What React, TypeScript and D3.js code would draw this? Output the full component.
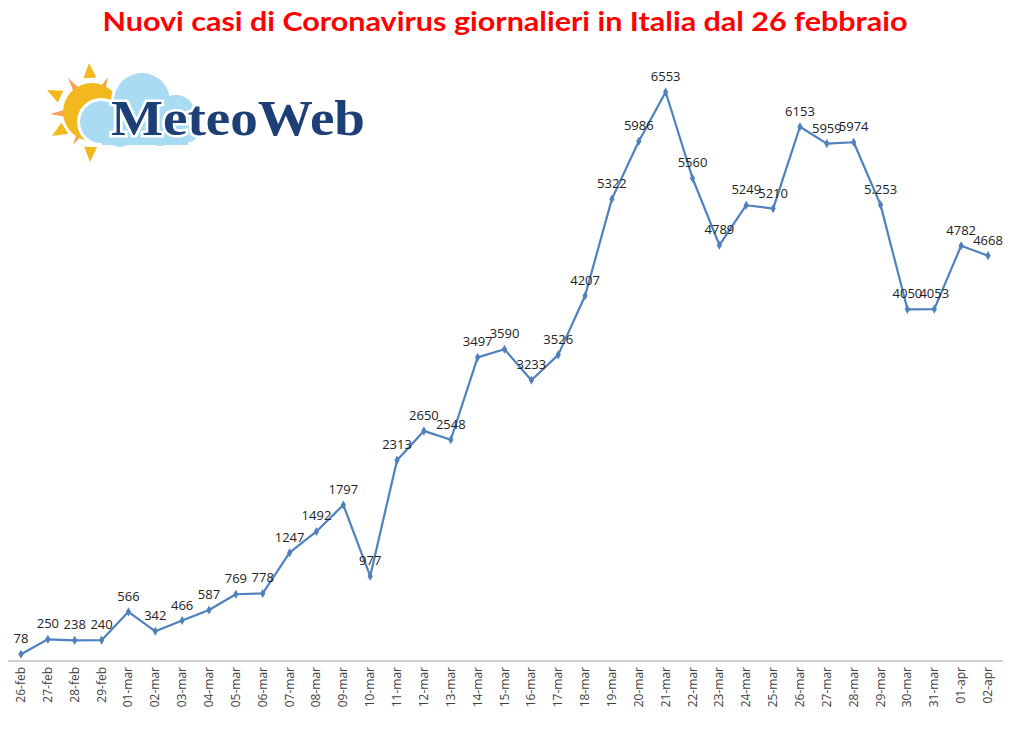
import React from "react";
import * as d3 from "d3";

const dates = ["26-feb","27-feb","28-feb","29-feb","01-mar","02-mar","03-mar","04-mar","05-mar","06-mar","07-mar","08-mar","09-mar","10-mar","11-mar","12-mar","13-mar","14-mar","15-mar","16-mar","17-mar","18-mar","19-mar","20-mar","21-mar","22-mar","23-mar","24-mar","25-mar","26-mar","27-mar","28-mar","29-mar","30-mar","31-mar","01-apr","02-apr"];
const newCases = [78,250,238,240,566,342,466,587,769,778,1247,1492,1797,977,2313,2650,2548,3497,3590,3233,3526,4207,5322,5986,6553,5560,4789,5249,5210,6153,5959,5974,5253,4050,4053,4782,4668];
const dataLabels = ["78","250","238","240","566","342","466","587","769","778","1247","1492","1797","977","2313","2650","2548","3497","3590","3233","3526","4207","5322","5986","6553","5560","4789","5249","5210","6153","5959","5974","5.253","4050","4053","4782","4668"];
const title = "Nuovi casi di Coronavirus giornalieri in Italia dal 26 febbraio";

const W = 1024, H = 730;

function Logo() {
  const cx = 92, cy = 112;
  const tips = [
    { t: [89, 63], w: 13, c: "#f2b81d" },
    { t: [68, 78], w: 7, c: "#f5a45a" },
    { t: [108, 77], w: 7, c: "#f5a45a" },
    { t: [47, 90], w: 13, c: "#f2b81d" },
    { t: [50, 114], w: 7, c: "#f5a45a" },
    { t: [52, 136], w: 13, c: "#f2b81d" },
    { t: [73, 145], w: 7, c: "#f5a45a" },
    { t: [90, 162], w: 13, c: "#f2b81d" },
  ];
  const cloud = [
    [142, 101, 28], [101, 122, 21], [176, 114, 19], [120, 134, 13], [160, 132, 14], [188, 131, 11],
  ];
  return (
    <g>
      {tips.map((r, i) => {
        const dx = r.t[0] - cx, dy = r.t[1] - cy;
        const len = Math.hypot(dx, dy);
        const ux = dx / len, uy = dy / len;
        const base = len - 15;
        const px = -uy, py = ux;
        const bx = cx + base * ux, by = cy + base * uy;
        const pts = `${r.t[0]},${r.t[1]} ${bx + px * r.w / 2},${by + py * r.w / 2} ${bx - px * r.w / 2},${by - py * r.w / 2}`;
        return <polygon key={i} points={pts} fill={r.c} />;
      })}
      <circle cx={cx} cy={cy} r={29} fill="#f2b81d" />
      <g fill="#ffffff">
        {cloud.map((c, i) => <circle key={i} cx={c[0]} cy={c[1]} r={c[2] + 3} />)}
        <rect x={100} y={108} width={90} height={40} />
      </g>
      <g fill="#a9dbf3">
        {cloud.map((c, i) => <circle key={i} cx={c[0]} cy={c[1]} r={c[2]} />)}
        <rect x={102} y={110} width={86} height={35} />
      </g>
      <text x={111} y={135} fontFamily="'Liberation Serif', serif" fontWeight="bold" fontSize={50}
        textLength={254} lengthAdjust="spacingAndGlyphs"
        fill="#1c3f75" stroke="#ffffff" strokeWidth={5} paintOrder="stroke">MeteoWeb</text>
    </g>
  );
}

export default function App() {
  const x = d3.scalePoint<string>().domain(dates).range([21, 988]);
  const y = d3.scaleLinear().domain([0, 6553]).range([661, 92]);
  const line = d3.line<number>().x((_, i) => x(dates[i])!).y((d) => y(d));
  const diamond = d3.symbol().type(d3.symbolDiamond).size(24)();

  return (
    <svg width={W} height={H} style={{ position: "absolute", left: 0, top: 0, background: "#fff" }}>
      <rect width={W} height={H} fill="#ffffff" />
      <text x={505} y={31} textAnchor="middle" fontFamily="Lato, 'Open Sans', sans-serif" fontWeight="bold"
        fontSize={27} fill="#ff0000" textLength={805} lengthAdjust="spacingAndGlyphs">{title}</text>
      <Logo />
      <line x1={8} x2={1003} y1={661} y2={661} stroke="#bfbfbf" strokeWidth={1.5} />
      <path d={line(newCases)!} fill="none" stroke="#4f81bd" strokeWidth={2.2} strokeLinejoin="round" />
      {newCases.map((v, i) => (
        <path key={"m" + i} d={diamond!} transform={`translate(${x(dates[i])},${y(v)})`} fill="#4f81bd" />
      ))}
      {newCases.map((v, i) => (
        <text key={"l" + i} x={x(dates[i])} y={y(v) - 11} textAnchor="middle"
          fontFamily="'Open Sans', 'Liberation Sans', sans-serif" fontSize={13} fill="#222">{dataLabels[i]}</text>
      ))}
      {dates.map((d, i) => (
        <text key={"t" + i} transform={`translate(${x(d)! + 4},${667}) rotate(-90)`} textAnchor="end"
          fontFamily="'Open Sans', 'Liberation Sans', sans-serif" fontSize={12} fill="#404040">{d}</text>
      ))}
    </svg>
  );
}
